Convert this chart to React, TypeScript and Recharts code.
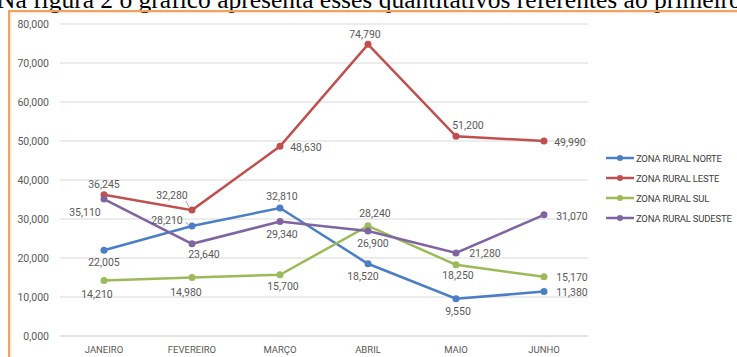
import { LineChart, Line, XAxis, YAxis, CartesianGrid, LabelList } from 'recharts';

const months = ['JANEIRO', 'FEVEREIRO', 'MARÇO', 'ABRIL', 'MAIO', 'JUNHO'];
const norte = [22.005, 28.21, 32.81, 18.52, 9.55, 11.38];
const leste = [36.245, 32.28, 48.63, 74.79, 51.2, 49.99];
const sul = [14.21, 14.98, 15.7, 28.24, 18.25, 15.17];
const sudeste = [35.11, 23.64, 29.34, 26.9, 21.28, 31.07];
const yTicks = [0, 10, 20, 30, 40, 50, 60, 70, 80];

const data = months.map((m, i) => ({
  month: m,
  norte: norte[i],
  leste: leste[i],
  sul: sul[i],
  sudeste: sudeste[i],
}));

// label placement per point: [dx, dy] from the dot to the label centre
const labelOffsets: Record<string, number[][]> = {
  norte: [[0, 12], [-25, -5], [2, -12], [-5, 13], [2, 13], [28, 1]],
  leste: [[0, -10], [-20, -15], [26, 1], [-3, -10], [12, -11], [26, 1]],
  sul: [[-7, 14], [-6, 15], [3, 12], [7, -12], [2, 11], [28, 1]],
  sudeste: [[-19, 13], [12, 11], [2, 13], [5, 12], [29, 0], [28, 2]],
};

const series = [
  { key: 'norte', name: 'ZONA RURAL NORTE', color: '#4A7EC5' },
  { key: 'leste', name: 'ZONA RURAL LESTE', color: '#C0504D' },
  { key: 'sul', name: 'ZONA RURAL SUL', color: '#9BBB59' },
  { key: 'sudeste', name: 'ZONA RURAL SUDESTE', color: '#8064A2' },
];

const fmt = (v: number) => v.toFixed(3).replace('.', ',');

const makeLabel = (key: string) => (props: any) => {
  const { x, y, value, index } = props;
  const [dx, dy] = labelOffsets[key][index];
  const cx = x + dx;
  const cy = y + dy;
  let leader = null;
  if (key === 'leste' && index === 1) {
    leader = <line x1={cx + 14} y1={cy + 6} x2={x - 3} y2={y - 3} stroke="#a6a6a6" strokeWidth={1} />;
  }
  if (key === 'norte' && index === 1) {
    leader = <line x1={cx + 19} y1={cy + 1} x2={x - 4} y2={y - 1} stroke="#a6a6a6" strokeWidth={1} />;
  }
  return (
    <g>
      {leader}
      <text x={cx} y={cy} textAnchor="middle" dominantBaseline="central" fontSize={10.5} fill="#595959" fontFamily="Roboto, sans-serif">
        {fmt(value)}
      </text>
    </g>
  );
};

export default function App() {
  return (
    <div style={{ position: 'absolute', left: 0, top: 0, width: 737, height: 357, overflow: 'hidden', background: '#fff' }}>
      <div
        style={{
          position: 'absolute',
          left: -3,
          top: -13,
          fontFamily: '"Liberation Serif", serif',
          fontSize: 25.5,
          lineHeight: '25.5px',
          whiteSpace: 'nowrap',
          color: '#000',
        }}
      >
        Na figura 2 o gráfico apresenta esses quantitativos referentes ao primeiro semestre
      </div>
      <div
        style={{
          position: 'absolute',
          left: 8,
          top: 10,
          width: 800,
          height: 400,
          borderLeft: '2px solid #F2A15F',
          borderTop: '2px solid #F2A15F',
          boxShadow: 'inset 1px 1px 2px rgba(242,161,95,0.35)',
        }}
      />
      <div style={{ position: 'absolute', left: 0, top: 0 }}>
        <LineChart width={737} height={357} data={data} margin={{ top: 24, right: 149, left: 10, bottom: 0 }}>
          <CartesianGrid vertical={false} stroke="#d9d9d9" />
          <XAxis
            dataKey="month"
            height={21}
            padding={{ left: 44, right: 44 }}
            tickLine={false}
            axisLine={{ stroke: '#d9d9d9' }}
            tickSize={0}
            tickMargin={10}
            tick={{ fontSize: 9.5, fill: '#595959', fontFamily: 'Roboto, sans-serif' }}
            interval={0}
          />
          <YAxis
            width={50}
            domain={[0, 80]}
            ticks={yTicks}
            tickFormatter={fmt}
            axisLine={false}
            tickLine={false}
            tickSize={0}
            tickMargin={11}
            tick={{ fontSize: 10.5, fill: '#595959', fontFamily: 'Roboto, sans-serif' }}
          />
          {series.map((s) => (
            <Line
              key={s.key}
              dataKey={s.key}
              name={s.name}
              stroke={s.color}
              strokeWidth={2.5}
              dot={{ r: 3.5, fill: s.color, stroke: s.color, strokeWidth: 0 }}
              isAnimationActive={false}
            >
              <LabelList dataKey={s.key} content={makeLabel(s.key)} />
            </Line>
          ))}
        </LineChart>
      </div>
      <div style={{ position: 'absolute', left: 606, top: 148, fontFamily: 'Roboto, sans-serif', fontSize: 9.5, color: '#404040' }}>
        {series.map((s) => (
          <div key={s.key} style={{ display: 'flex', alignItems: 'center', height: 20, whiteSpace: 'nowrap' }}>
            <svg width={29} height={10} style={{ marginRight: 1 }}>
              <line x1={0} y1={5} x2={28} y2={5} stroke={s.color} strokeWidth={2.5} />
              <circle cx={14} cy={5} r={3} fill={s.color} />
            </svg>
            <span style={{ letterSpacing: -0.2 }}>{s.name}</span>
          </div>
        ))}
      </div>
    </div>
  );
}
